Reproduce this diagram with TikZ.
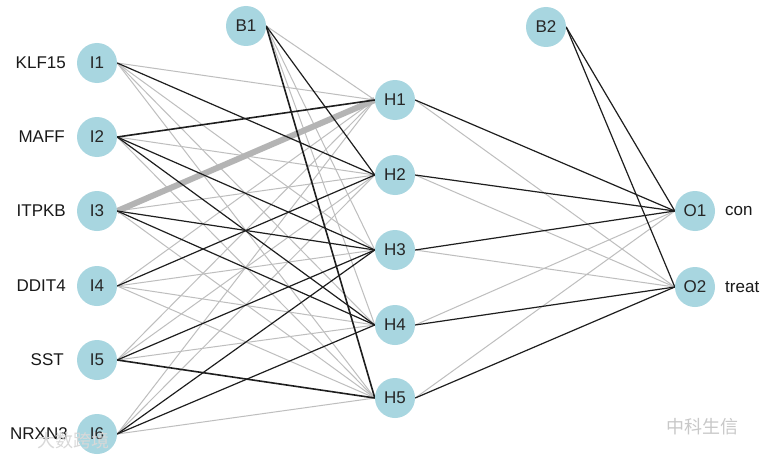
\documentclass[tikz,border=0pt]{standalone}
\usepackage{fontspec}
\setmainfont{Liberation Sans}
\newfontfamily\cjk{Noto Sans CJK SC}
\usetikzlibrary{backgrounds}
\definecolor{nodeblue}{HTML}{A8D6E0}
\definecolor{wpos}{HTML}{1E1E1E}
\definecolor{wneg}{HTML}{BEBEBE}
\definecolor{wmark}{HTML}{C8C8C8}
\begin{document}
\begin{tikzpicture}[x=1pt,y=-1pt,
  neuron/.style={circle,fill=nodeblue,minimum size=40pt,inner sep=0pt,
    font=\fontsize{17}{19}\selectfont,text=black!85},
  lab/.style={font=\fontsize{17}{19}\selectfont,text=black!90,inner sep=0pt},
  pw/.style={draw=wpos,line width=1.2pt},
  pwb/.style={draw=wpos,line width=1.6pt},
  nw/.style={draw=wneg,line width=1pt},
  nwb/.style={draw=wneg!95!black,line width=6pt},
  wm/.style={font=\cjk\fontsize{18}{20}\selectfont,text=wmark,inner sep=0pt}]
\useasboundingbox (0,0) rectangle (765,460);

% input layer
\node[neuron] (I1) at (97,63)  {I1};
\node[neuron] (I2) at (97,137) {I2};
\node[neuron] (I3) at (97,211) {I3};
\node[neuron] (I4) at (97,286) {I4};
\node[neuron] (I5) at (97,360) {I5};
\node[neuron] (I6) at (97,434) {I6};
% hidden layer
\node[neuron] (B1) at (246,26)  {B1};
\node[neuron] (H1) at (395,100) {H1};
\node[neuron] (H2) at (395,175) {H2};
\node[neuron] (H3) at (395,250) {H3};
\node[neuron] (H4) at (395,325) {H4};
\node[neuron] (H5) at (395,398) {H5};
% output layer
\node[neuron] (B2) at (546,27)  {B2};
\node[neuron] (O1) at (695,211) {O1};
\node[neuron] (O2) at (695,287) {O2};

% labels
\node[lab,anchor=east] (L1) at (66,63)  {KLF15};
\node[lab,anchor=east] (L2) at (65,137) {MAFF};
\node[lab,anchor=east] (L3) at (66,211) {ITPKB};
\node[lab,anchor=east] (L4) at (66,286) {DDIT4};
\node[lab,anchor=east] (L5) at (64,360) {SST};
\node[lab,anchor=east] (L6) at (68,434) {NRXN3};
\node[lab,anchor=west] (LO1) at (725,211) {con};
\node[lab,anchor=west] (LO2) at (725,287) {treat};

% watermarks
\node[wm,anchor=west] (W1) at (666,427) {中科生信};
\node[wm,anchor=west,text=wmark!70] (W2) at (37,441) {大数跨境};

\begin{scope}[on background layer]
\fill[white] (0,0) rectangle (765,460);
\foreach \a/\b/\s in {
  I1/H1/nw, I1/H3/nw, I1/H4/nw, I1/H5/nw,
  I2/H2/nw, I2/H5/nw,
  I3/H2/nw, I3/H5/nw,
  I4/H1/nw, I4/H3/nw, I4/H4/nw, I4/H5/nw,
  I5/H1/nw, I5/H2/nw, I5/H4/nw,
  I6/H1/nw, I6/H2/nw, I6/H5/nw,
  H1/O2/nw, H2/O2/nw, H3/O2/nw, H4/O1/nw, H5/O1/nw}
  \draw[\s] (\a.east) -- (\b.west);
\foreach \b in {H1,H3,H4}
  \draw[nw] (B1.east) -- (\b.west);
\draw[nwb] (I3.east) -- (H1.west);
\foreach \a/\b/\s in {
  I1/H2/pw, I2/H1/pwb, I2/H3/pw, I2/H4/pw,
  I3/H3/pw, I3/H4/pw, I4/H2/pw,
  I5/H3/pw, I5/H5/pwb, I6/H3/pw, I6/H4/pw,
  H1/O1/pw, H2/O1/pw, H3/O1/pw, H4/O2/pw, H5/O2/pw}
  \draw[\s] (\a.east) -- (\b.west);
\draw[pw] (B1.east) -- (H2.west);
\draw[pwb] (B1.east) -- (H5.west);
\draw[pw] (B2.east) -- (O1.west);
\draw[pw] (B2.east) -- (O2.west);
\end{scope}
\end{tikzpicture}
\end{document}
